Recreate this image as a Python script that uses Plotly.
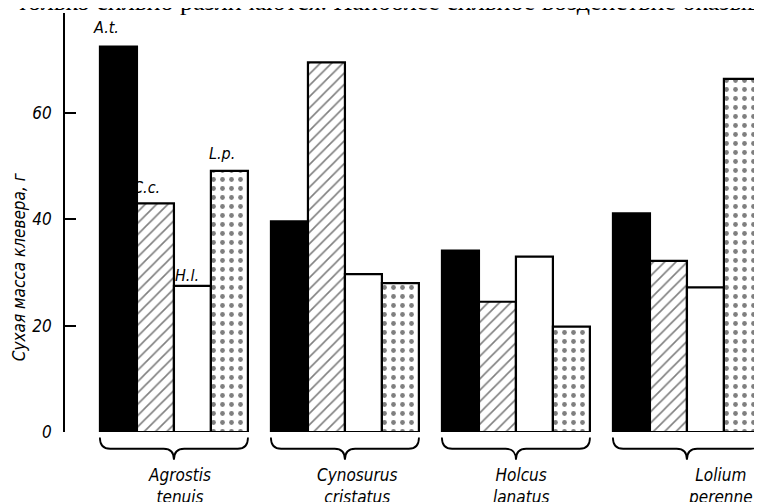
import plotly.graph_objects as go

# ---- data ----
groups = ["Agrostis<br>tenuis", "Cynosurus<br>cristatus", "Holcus<br>lanatus", "Lolium<br>perenne"]
series_names = ["A.t.", "C.c.", "H.l.", "L.p."]
val_At = [72.5, 39.6, 34.1, 41.1]
val_Cc = [43.0, 69.5, 24.5, 32.2]
val_Hl = [27.5, 29.7, 33.0, 27.2]
val_Lp = [49.1, 28.0, 19.8, 66.4]
y_ticks = [0, 20, 40, 60]
y_title = "Сухая масса клевера, г"
top_text = "только сильно различаются. Наиболее сильное воздействие оказыв"

series_values = [val_At, val_Cc, val_Hl, val_Lp]
xpos = list(range(len(groups)))

FONT = "DejaVu Sans Condensed, DejaVu Sans"
bargap = 0.135
n = len(series_names)
bw = (1 - bargap) / n

styles = [
    dict(color="black", pattern=dict(shape="")),
    dict(color="white", pattern=dict(shape="/", fgcolor="black", bgcolor="white", size=8, solidity=0.2)),
    dict(color="white", pattern=dict(shape="")),
    dict(color="white", pattern=dict(shape=".", fgcolor="black", bgcolor="white", size=9, solidity=0.22)),
]

fig = go.Figure()
for name, vals, st in zip(series_names, series_values, styles):
    fig.add_trace(go.Bar(
        x=xpos, y=vals, name=name,
        marker=dict(color=st["color"], pattern=st["pattern"],
                    line=dict(color="black", width=2.2)),
    ))

# series labels above first group's bars
lbl_shift = [(-12, 8), (-9, 4), (-5, -1), (-7, 6)]
for i, (name, vals) in enumerate(zip(series_names, series_values)):
    xo = xpos[0] + (i - (n - 1) / 2) * bw
    fig.add_annotation(x=xo, y=vals[0], text=name, showarrow=False,
                       xref="x", yref="y", yanchor="bottom",
                       xshift=lbl_shift[i][0], yshift=lbl_shift[i][1],
                       font=dict(family=FONT, size=16, color="black", style="italic"))

# braces and group labels
h = 0.433
y_top, y_mid, y_tip = -0.013, -0.040, -0.066
name_shift = [6, 12, 5, 34]
for i, (xc, g) in enumerate(zip(xpos, groups)):
    path = (f"M {xc-h},{y_top} Q {xc-h},{y_mid} {xc-h+0.06},{y_mid} "
            f"L {xc-0.06},{y_mid} Q {xc},{y_mid} {xc},{y_tip} "
            f"Q {xc},{y_mid} {xc+0.06},{y_mid} "
            f"L {xc+h-0.06},{y_mid} Q {xc+h},{y_mid} {xc+h},{y_top}")
    fig.add_shape(type="path", path=path, xref="x", yref="paper",
                  line=dict(color="black", width=1.8))
    fig.add_annotation(x=xc, y=-0.075, text=g, showarrow=False,
                       xref="x", yref="paper", yanchor="top", xshift=name_shift[i],
                       font=dict(family=FONT, size=17, color="black", style="italic"))

# y title
fig.add_annotation(x=0, y=31, xref="paper", yref="y", text=y_title, textangle=-90,
                   showarrow=False, xshift=-58,
                   font=dict(family=FONT, size=17, color="black", style="italic"))

# cropped line of page text at top
fig.add_annotation(x=0, y=1, xref="paper", yref="paper", text=top_text,
                   showarrow=False, xanchor="left", yanchor="middle", yshift=12, xshift=-50,
                   font=dict(family="Liberation Serif", size=26, color="black"))

fig.update_layout(
    width=754, height=494,
    margin=dict(l=57, r=0, t=5, b=70, autoexpand=False),
    paper_bgcolor="white", plot_bgcolor="white",
    barmode="group", bargap=bargap, bargroupgap=0,
    showlegend=False,
    xaxis=dict(range=[-0.637, 3.439], showticklabels=False, ticks="",
               showline=False, showgrid=False, zeroline=False, automargin=False),
    yaxis=dict(range=[0, 78.8], tickvals=y_ticks, ticks="inside", ticklen=11,
               tickwidth=1.6, tickcolor="black", showline=True, linecolor="black",
               linewidth=1.6, showgrid=False, zeroline=False, ticklabelstandoff=8,
               automargin=False,
               tickfont=dict(family=FONT, size=17, color="black", style="italic")),
)

fig.write_html("out.html")
